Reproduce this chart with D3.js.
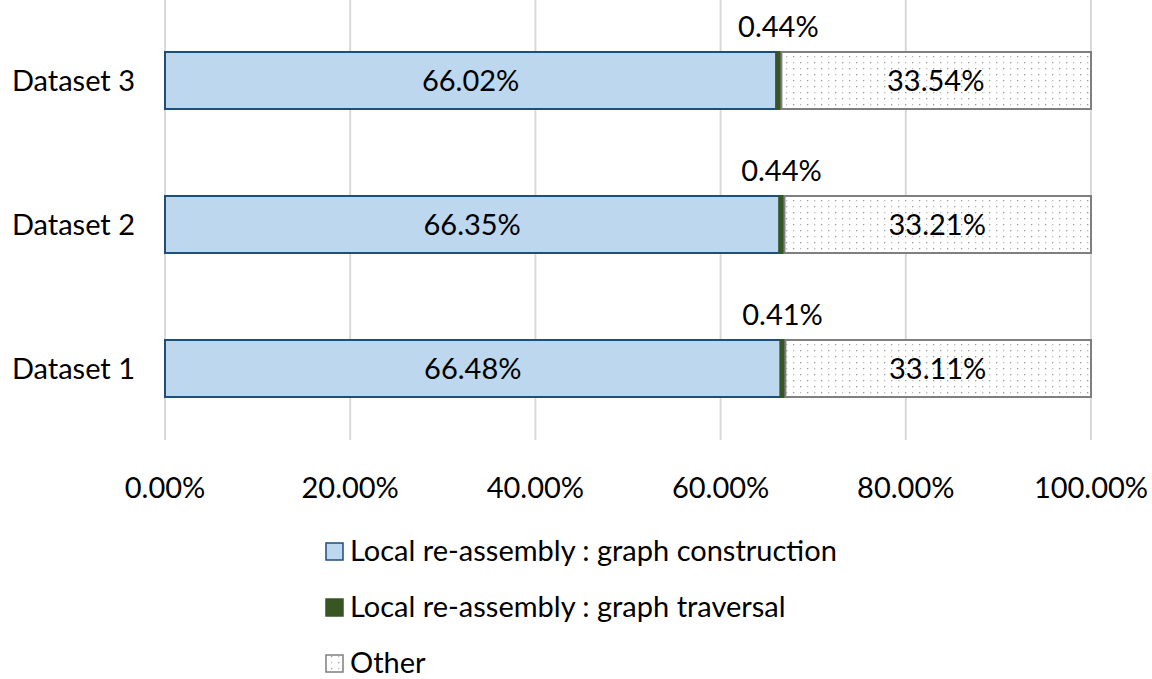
<!DOCTYPE html>
<html><head><meta charset="utf-8">
<script src="https://cdn.jsdelivr.net/npm/d3@7"></script>
<style>body{margin:0;background:#fff}svg{display:block}text{font-family:Lato,"Open Sans",sans-serif;fill:#000}</style>
</head><body><svg id="c" width="1152" height="679"></svg>
<script>
const categories = ["Dataset 3", "Dataset 2", "Dataset 1"];
const construction = [66.02, 66.35, 66.48];
const traversal = [0.44, 0.44, 0.41];
const other = [33.54, 33.21, 33.11];
const tickValues = [0, 20, 40, 60, 80, 100];
const seriesNames = ["Local re-assembly : graph construction", "Local re-assembly : graph traversal", "Other"];

const FS = 29;
const svg = d3.select("#c");
const defs = svg.append("defs");
const pat = defs.append("pattern").attr("id","dots").attr("patternUnits","userSpaceOnUse")
  .attr("width",14).attr("height",12);
pat.append("rect").attr("width",14).attr("height",12).attr("fill","#fff");
[[2,2],[9,8]].forEach(([x,y])=>pat.append("rect").attr("x",x).attr("y",y).attr("width",1.3).attr("height",1.3).attr("fill","#999"));
[[9,2],[2,8]].forEach(([x,y])=>pat.append("rect").attr("x",x).attr("y",y).attr("width",1.3).attr("height",1.3).attr("fill","#bbb"));

const x = d3.scaleLinear().domain([0,100]).range([165,1091]);
const y = d3.scaleBand().domain(categories).range([8.5,440.5]).paddingInner(0.604).paddingOuter(0.302);

// gridlines
svg.append("g").selectAll("line").data(tickValues).join("line")
  .attr("x1",d=>x(d)).attr("x2",d=>x(d)).attr("y1",0).attr("y2",440)
  .attr("stroke","#d9d9d9").attr("stroke-width",2);

// tick labels
svg.append("g").selectAll("text").data(tickValues).join("text")
  .attr("x",d=>x(d)).attr("y",498).attr("text-anchor","middle").attr("font-size",FS)
  .text(d=>d.toFixed(2)+"%");

// category labels
svg.append("g").selectAll("text").data(categories).join("text")
  .attr("x",135).attr("y",d=>y(d)+y.bandwidth()/2+10).attr("text-anchor","end").attr("font-size",FS)
  .text(d=>d);

const rows = categories.map((c,i)=>({c, a:construction[i], b:traversal[i], o:other[i]}));
const g = svg.append("g");
rows.forEach(r=>{
  const y0 = y(r.c), h = y.bandwidth();
  g.append("rect").attr("x",x(0)).attr("y",y0).attr("width",x(r.a)-x(0)).attr("height",h)
    .attr("fill","#bdd7ee").attr("stroke","#1f4e79").attr("stroke-width",2);
  g.append("rect").attr("x",x(r.a)).attr("y",y0).attr("width",x(r.a+r.b)-x(r.a)).attr("height",h)
    .attr("fill","#375623").attr("stroke","#375623").attr("stroke-width",2);
  g.append("rect").attr("x",x(r.a+r.b)+1).attr("y",y0).attr("width",x(100)-x(r.a+r.b)-1).attr("height",h)
    .attr("fill","url(#dots)").attr("stroke","#7f7f7f").attr("stroke-width",2);
  g.append("text").attr("x",(x(0)+x(r.a))/2).attr("y",y0+h/2+10).attr("text-anchor","middle").attr("font-size",FS).text(r.a.toFixed(2)+"%");
  g.append("text").attr("x",(x(r.a+r.b)+x(100))/2).attr("y",y0+h/2+10).attr("text-anchor","middle").attr("font-size",FS).text(r.o.toFixed(2)+"%");
  g.append("text").attr("x",x(r.a+r.b/2)).attr("y",y0-15).attr("text-anchor","middle").attr("font-size",FS).text(r.b.toFixed(2)+"%");
});

// legend
const fills = ["#bdd7ee","#375623","url(#dots)"], strokes = ["#1f4e79","#375623","#7f7f7f"];
const lg = svg.append("g");
seriesNames.forEach((n,i)=>{
  const cy = 551 + i*56;
  lg.append("rect").attr("x",326).attr("y",cy-8).attr("width",17).attr("height",17)
    .attr("fill",fills[i]).attr("stroke",strokes[i]).attr("stroke-width",1.5);
  lg.append("text").attr("x",350).attr("y",cy+10).attr("font-size",FS).text(n);
});
</script></body></html>
